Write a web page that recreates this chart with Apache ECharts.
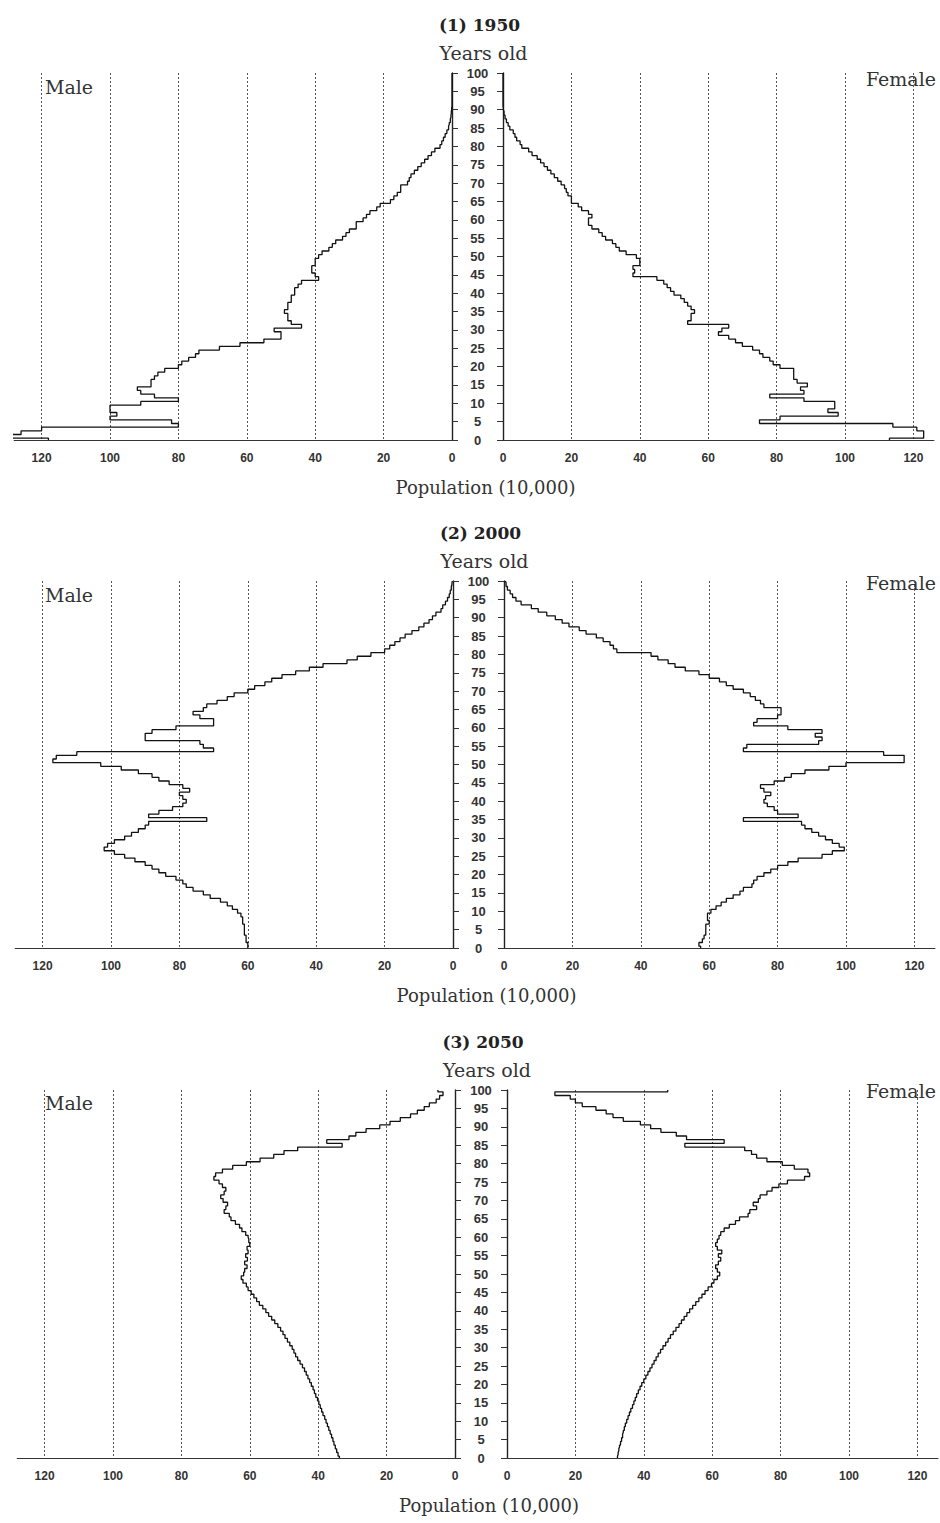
<!DOCTYPE html>
<html>
<head>
<meta charset="utf-8">
<script src="https://cdn.jsdelivr.net/npm/echarts@6/dist/echarts.min.js"></script>
<style>
  html, body { margin: 0; padding: 0; background: #fff; }
  #main { width: 940px; height: 1523px; }
</style>
</head>
<body>
<div id="main"></div>
<script>
// ages 0..100 (category axis, bottom to top)
const ages = Array.from({ length: 101 }, (_, i) => String(i))

// population by single year of age, unit 10,000
const male1950 = [
  118, 129, 126, 120, 80, 82, 100, 98, 100, 100,
  91, 80, 87, 91, 92, 88, 88, 87, 86, 84,
  80, 79, 77, 75, 74, 68, 62, 55, 50, 50,
  52, 44, 47, 48, 48, 49, 48, 48, 47, 47,
  46, 46, 45, 44, 39, 40, 41, 41, 40, 40,
  39, 38, 36, 35, 34, 32, 31, 30, 28, 28,
  26, 25, 24, 22, 21, 18, 17, 16, 15, 15,
  13, 12.5, 12, 11, 10, 9, 8, 7, 6, 5,
  3.5, 3, 2.5, 2, 1.5, 1, 0.8, 0.5, 0.3, 0.2,
  0.1, 0, 0, 0, 0, 0, 0, 0, 0, 0, 0
]
const female1950 = [
  113, 123, 123, 121, 114, 75, 81, 98, 95, 97,
  97, 88, 78, 88, 87, 89, 86, 85, 85, 85,
  81, 79, 78, 76, 75, 73, 70, 68, 66, 63,
  64, 66, 54, 55, 55, 56, 55, 54, 53, 52,
  50, 49, 48, 47, 45, 38, 38.5, 38, 40, 40,
  39, 36, 34, 33, 32, 30, 29, 28, 26, 25,
  25, 26, 25, 23, 22, 20, 20, 19, 18.5, 18,
  17, 16, 15, 14, 13, 12, 11, 10, 8.5, 7.5,
  5.5, 5, 4, 3.5, 3, 2, 1.5, 1, 0.6, 0.3,
  0.1, 0, 0, 0, 0, 0, 0, 0, 0, 0, 0
]
const male2000 = [
  60, 60, 60.5, 60.5, 61, 61, 61, 61.5, 61.5, 62,
  63, 64.5, 66, 68, 71, 73, 76, 78, 79, 81,
  84, 86, 88, 90, 93, 96, 99, 102, 101, 99,
  96, 94, 92, 90, 89, 72, 89, 86, 82, 79,
  78, 79, 80, 77, 79, 83, 86, 88, 92, 97,
  103, 117, 116, 110, 70, 73, 74, 90, 90, 88,
  81, 70, 70, 74, 76, 73, 72, 69, 66, 64,
  60, 58, 55, 53, 50, 46, 42, 38, 31, 28,
  24, 20, 18.5, 17, 15.5, 14, 12, 10, 8.5, 7,
  6, 5, 3.5, 3, 2.2, 1.6, 1.1, 0.8, 0.5, 0.3, 0.2
]
const female2000 = [
  57.5, 57, 58, 58.5, 59, 59, 59, 60, 59.5, 59.5,
  60.5, 62, 63.5, 65, 67, 69, 70, 72.5, 73, 74,
  76, 78, 80, 83, 86, 93, 96, 99.5, 98, 96,
  94, 92, 90, 88, 87, 70, 86, 80, 79, 77,
  76, 76.5, 78, 76, 75, 79, 82, 84, 88, 95,
  100, 117, 117, 111, 70, 71, 92, 93, 91, 93,
  83, 73, 74, 80, 81, 81, 76, 75, 73.5, 72,
  70, 67, 65, 63, 60, 57, 53, 50, 48, 45,
  43, 33, 32, 31, 29, 27, 24, 22, 19, 17,
  15, 12.5, 10, 8, 5, 3.5, 2.5, 1.8, 1, 0.6, 0.4
]
const male2050 = [
  33.8, 34.2, 34.6, 35.0, 35.4, 35.7, 36.1, 36.5, 36.9, 37.3,
  37.7, 38.1, 38.6, 39.0, 39.4, 39.8, 40.2, 40.7, 41.1, 41.5,
  42.0, 42.5, 43.0, 43.5, 44.0, 44.6, 45.3, 46.0, 46.6, 47.1,
  47.6, 48.3, 49.0, 49.7, 50.3, 51.0, 51.8, 52.7, 53.6, 54.5,
  55.3, 56.2, 57.2, 58.0, 58.8, 59.6, 60.5, 61.0, 62.0, 62.5,
  61.8, 61.5, 60.8, 61.5, 60.7, 61.2, 60.5, 60.8, 60.0, 60.3,
  60.5, 61.2, 62.3, 63.0, 64.2, 65.5, 66.0, 67.5, 67.0, 66.5,
  67.8, 68.5, 67.5, 67.0, 68.0, 69.0, 70.5, 70.0, 68.0, 65.0,
  61.0, 57.0, 53.0, 50.0, 46.0, 33.0, 37.5, 31.0, 29.0, 26.0,
  22.0, 19.0, 16.0, 13.0, 11.0, 9.0, 7.5, 5.5, 4.5, 3.5, 5.0
]
const female2050 = [
  32.3, 32.5, 32.7, 32.9, 33.2, 33.5, 33.8, 34.0, 34.3, 34.6,
  35.0, 35.4, 35.8, 36.2, 36.7, 37.1, 37.5, 37.9, 38.4, 38.9,
  39.4, 40.0, 40.6, 41.2, 41.8, 42.4, 43.0, 43.6, 44.2, 44.9,
  45.6, 46.4, 47.1, 47.8, 48.6, 49.4, 50.3, 51.0, 51.8, 52.6,
  53.4, 54.3, 55.2, 56.1, 57.0, 57.9, 58.8, 59.8, 60.5, 61.5,
  62.2, 61.5, 61.0, 61.8, 62.5, 61.8, 62.8, 61.5, 61.0, 61.5,
  62.0, 62.5, 63.5, 65.0, 66.8, 68.0, 70.5, 71.0, 73.0, 72.0,
  73.5, 74.0, 76.0, 77.5, 79.5, 82.0, 87.0, 88.5, 88.0, 84.0,
  80.5, 76.0, 73.0, 71.5, 69.5, 52.0, 63.5, 52.5, 49.5, 45.0,
  42.0, 39.0, 34.0, 31.0, 29.0, 26.0, 22.0, 20.0, 18.5, 14.0, 47.0
]

const panelTitles = ['(1) 1950', '(2) 2000', '(3) 2050']
const maleSeries = [male1950, male2000, male2050]
const femaleSeries = [female1950, female2000, female2050]

// layout of each pyramid (pixels)
const layout = [
  { top: 73, bottom: 440, maleRight: 452, femaleLeft: 503, maleY: 87, femaleY: 79 },
  { top: 581, bottom: 948, maleRight: 453, femaleLeft: 504, maleY: 595, femaleY: 583 },
  { top: 1090, bottom: 1458, maleRight: 455, femaleLeft: 507, maleY: 1103, femaleY: 1091 }
]

const PX = 3.42
const MALE_MAX = 128
const FEMALE_MAX = 126

const serif = '"DejaVu Serif", "Liberation Serif", serif'
const narrow = '"Liberation Sans Narrow", "Liberation Sans", Arial, sans-serif'
const ink = '#222'

const grid = []
const xAxis = []
const yAxis = []
const series = []
const graphic = []

function makeX(idx, inverse, max) {
  return {
    type: 'value',
    gridIndex: idx,
    min: 0,
    max: max,
    interval: 20,
    inverse: inverse,
    axisLine: { show: true, onZero: false, lineStyle: { color: '#333', width: 1.2 } },
    axisTick: { show: false },
    axisLabel: {
      showMaxLabel: false,
      margin: 12,
      color: '#333',
      fontFamily: narrow,
      fontWeight: 'bold',
      fontSize: 12
    },
    splitLine: {
      show: true,
      showMinLine: false,
      showMaxLine: false,
      lineStyle: { type: [2, 2], color: '#555', width: 1 }
    }
  }
}

function makeY(idx, position, showLabels, margin) {
  return {
    type: 'category',
    gridIndex: idx,
    data: ages,
    position: position,
    boundaryGap: false,
    axisLine: { show: true, lineStyle: { color: '#222', width: 1.4 } },
    axisTick: { show: true, interval: 4, length: 6, lineStyle: { color: '#333' } },
    axisLabel: {
      show: showLabels,
      interval: 4,
      align: 'center',
      margin: margin,
      color: '#333',
      fontFamily: narrow,
      fontWeight: 'bold',
      fontSize: 13
    },
    splitLine: { show: false }
  }
}

layout.forEach((p, i) => {
  const h = p.bottom - p.top
  const mw = MALE_MAX * PX
  const fw = FEMALE_MAX * PX
  const g = i * 2
  grid.push({ left: p.maleRight - mw, top: p.top, width: mw, height: h })
  grid.push({ left: p.femaleLeft, top: p.top, width: fw, height: h })

  xAxis.push(makeX(g, true, MALE_MAX))
  xAxis.push(makeX(g + 1, false, FEMALE_MAX))
  yAxis.push(makeY(g, 'right', false, 0))
  yAxis.push(makeY(g + 1, 'left', true, (p.femaleLeft - p.maleRight) / 2))

  const lineStyle = { color: '#111', width: 1.3 }
  series.push({
    name: 'Male ' + panelTitles[i],
    type: 'line',
    xAxisIndex: g,
    yAxisIndex: g,
    step: 'middle',
    showSymbol: false,
    lineStyle: lineStyle,
    data: maleSeries[i]
  })
  series.push({
    name: 'Female ' + panelTitles[i],
    type: 'line',
    xAxisIndex: g + 1,
    yAxisIndex: g + 1,
    step: 'middle',
    showSymbol: false,
    lineStyle: lineStyle,
    data: femaleSeries[i]
  })

  const mid = (p.maleRight + p.femaleLeft) / 2
  graphic.push(
    { type: 'text', x: mid + 2, y: p.top - 48, style: { text: panelTitles[i], align: 'center', verticalAlign: 'middle', fontFamily: serif, fontWeight: 'bold', fontSize: 17, fill: ink } },
    { type: 'text', x: mid + 6, y: p.top - 20, style: { text: 'Years old', align: 'center', verticalAlign: 'middle', fontFamily: serif, fontSize: 19, fill: '#333' } },
    { type: 'text', x: mid + 8, y: p.bottom + 47, style: { text: 'Population (10,000)', align: 'center', verticalAlign: 'middle', fontFamily: serif, fontSize: 18, fill: '#333' } },
    { type: 'text', x: 45, y: p.maleY, style: { text: 'Male', align: 'left', verticalAlign: 'middle', fontFamily: serif, fontSize: 19, fill: '#333' } },
    { type: 'text', x: 936, y: p.femaleY, style: { text: 'Female', align: 'right', verticalAlign: 'middle', fontFamily: serif, fontSize: 19, fill: '#333' } }
  )
})

const chart = echarts.init(document.getElementById('main'), null, { renderer: 'svg' })
chart.setOption({
  animation: false,
  backgroundColor: '#fff',
  grid: grid,
  xAxis: xAxis,
  yAxis: yAxis,
  series: series,
  graphic: graphic
})
</script>
</body>
</html>
